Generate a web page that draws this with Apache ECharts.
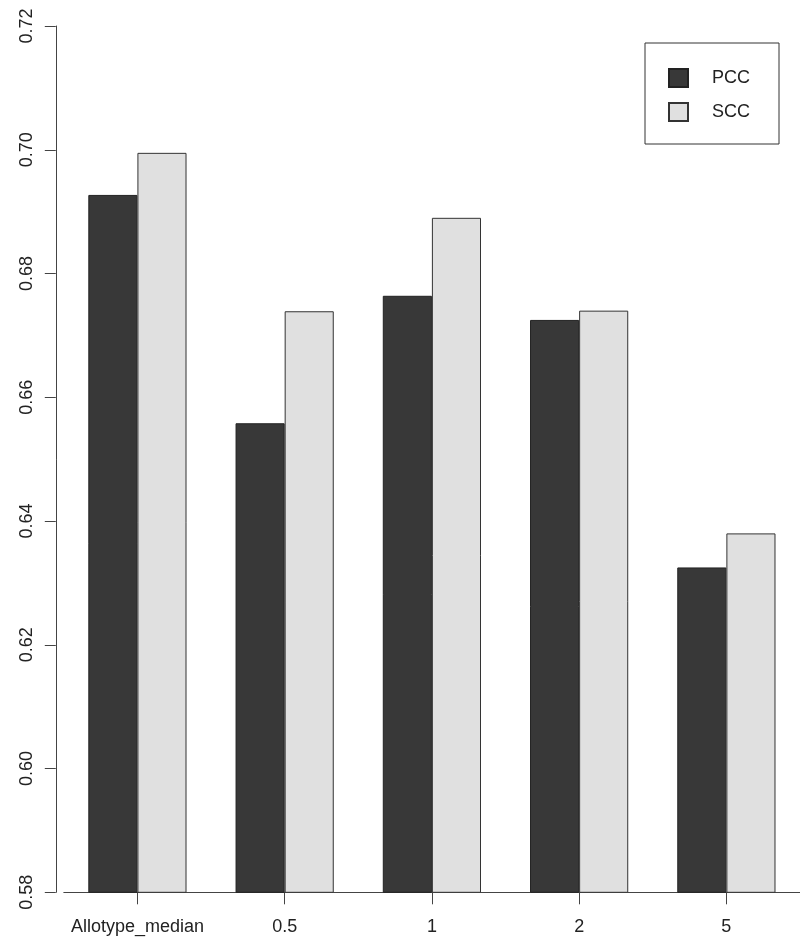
<!DOCTYPE html>
<html>
<head>
<meta charset="utf-8">
<script src="https://cdn.jsdelivr.net/npm/echarts@6/dist/echarts.min.js"></script>
<style>
html,body{margin:0;padding:0;background:#fff;}
#chart{width:800px;height:952px;}
</style>
</head>
<body>
<div id="chart"></div>
<script>
const categories = ['Allotype_median', '0.5', '1', '2', '5'];
const pccValues = [0.6927, 0.6558, 0.6764, 0.6725, 0.6325];
const sccValues = [0.6995, 0.6739, 0.6890, 0.6740, 0.6380];
const seriesNames = ['PCC', 'SCC'];

const chart = echarts.init(document.getElementById('chart'));
const font = 'Liberation Sans, Arial, Helvetica, sans-serif';
chart.setOption({
  animation: false,
  backgroundColor: '#ffffff',
  grid: { left: 63.8, right: 0, top: 26, bottom: 59.7 },
  legend: {
    orient: 'vertical',
    left: 645, top: 43,
    padding: [25, 29, 22, 23],
    itemWidth: 19, itemHeight: 18, itemGap: 14,
    borderColor: '#333', borderWidth: 1,
    icon: 'rect',
    data: seriesNames,
    textStyle: { fontFamily: font, fontSize: 18, color: '#222', padding: [0, 0, 0, 19] }
  },
  xAxis: {
    type: 'category',
    data: categories,
    axisLine: { show: true, lineStyle: { color: '#444', width: 1 } },
    axisTick: { show: true, alignWithLabel: true, interval: 0, length: 12, lineStyle: { color: '#444', width: 1 } },
    axisLabel: { interval: 0, fontFamily: font, fontSize: 18, color: '#222', margin: 26 }
  },
  yAxis: {
    type: 'value',
    min: 0.58, max: 0.72, interval: 0.02,
    offset: 8,
    splitLine: { show: false },
    axisLine: { show: true, lineStyle: { color: '#444', width: 1 } },
    axisTick: { show: true, length: 11, lineStyle: { color: '#444' } },
    axisLabel: { fontFamily: font, fontSize: 18, color: '#222', rotate: 90, margin: 20,
      formatter: v => v.toFixed(2) }
  },
  series: [
    { name: seriesNames[0], type: 'bar', data: pccValues, barGap: '0%', barCategoryGap: '33.3%',
      itemStyle: { color: '#383838', borderColor: '#222', borderWidth: 1 } },
    { name: seriesNames[1], type: 'bar', data: sccValues, barGap: '0%', barCategoryGap: '33.3%',
      itemStyle: { color: '#e0e0e0', borderColor: '#333', borderWidth: 1 } }
  ]
});
</script>
</body>
</html>
